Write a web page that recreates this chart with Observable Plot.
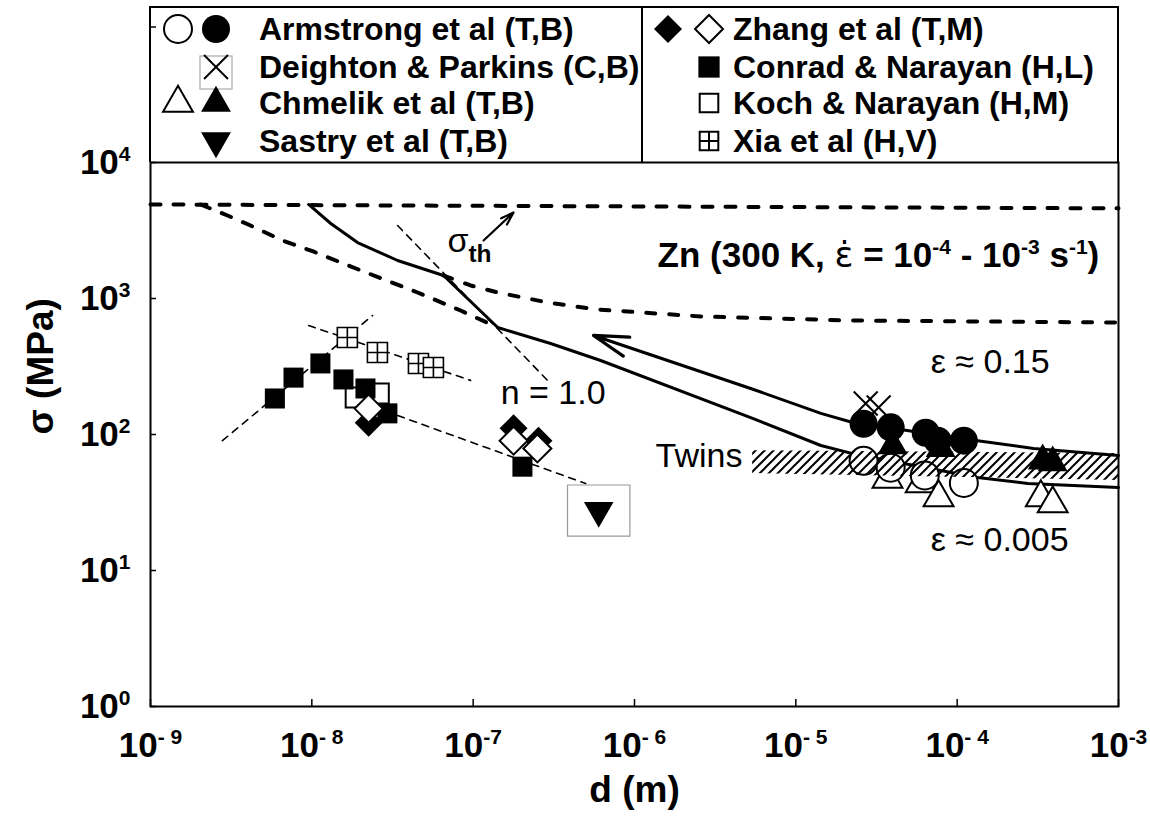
<!DOCTYPE html>
<html>
<head>
<meta charset="utf-8">
<script src="https://cdn.jsdelivr.net/npm/d3@7"></script>
<script src="https://cdn.jsdelivr.net/npm/@observablehq/plot@0.6"></script>
<style>
  body { margin: 0; background: #fff; }
  #wrap { position: relative; width: 1150px; height: 828px; font-family: "Liberation Sans", Arial, sans-serif; }
  #wrap svg { position: absolute; left: 0; top: 0; }
</style>
</head>
<body>
<div id="wrap"></div>
<script>
// ---------- axes ----------
const xTicks = [1e-9, 1e-8, 1e-7, 1e-6, 1e-5, 1e-4, 1e-3];
const xTickLabels = ["10^{- 9}", "10^{- 8}", "10^{-7}", "10^{- 6}", "10^{- 5}", "10^{- 4}", "10^{-3}"];
const yTicks = [1, 10, 100, 1000, 10000];
const yTickLabels = ["10^{0}", "10^{1}", "10^{2}", "10^{3}", "10^{4}"];

// ---------- measurements: grain size d (m), flow stress sigma (MPa) ----------
// Armstrong et al (T,B)
const armstrongHiD = [2.63e-5, 3.87e-5, 6.38e-5, 7.57e-5, 1.1e-4];
const armstrongHiS = [120, 113, 103, 90, 90];
const armstrongLoD = [2.63e-5, 3.87e-5, 6.3e-5, 1.1e-4];
const armstrongLoS = [64, 57, 50, 44];
// Deighton & Parkins (C,B)
const deightonD = [2.71e-5, 3.26e-5];
const deightonS = [169, 158];
// Chmelik et al (T,B)
const chmelikHiD = [3.98e-5, 7.9e-5, 3.39e-4, 3.91e-4];
const chmelikHiS = [83, 79, 64, 62];
const chmelikLoD = [3.7e-5, 5.94e-5, 7.67e-5, 3.3e-4, 3.91e-4];
const chmelikLoS = [47, 43.6, 34.4, 34.4, 31];
// Sastry et al (T,B)
const sastryD = [6.0e-7];
const sastryS = [27.6];
// Zhang et al (T,M)
const zhangHiD = [2.25e-8, 1.78e-7, 2.54e-7];
const zhangHiS = [122, 111, 90];
const zhangLoD = [2.25e-8, 1.78e-7, 2.5e-7];
const zhangLoS = [155, 90, 79];
// Conrad & Narayan (H,L)
const conradD = [5.9e-9, 7.7e-9, 1.13e-8, 1.57e-8, 2.15e-8, 2.94e-8, 2.02e-7];
const conradS = [184, 262, 333, 254, 218, 143, 58];
// Koch & Narayan (H,M)
const kochD = [1.87e-8, 2.6e-8];
const kochS = [187, 200];
// Xia et al (H,V)
const xiaD = [1.66e-8, 2.55e-8, 4.58e-8, 5.67e-8];
const xiaS = [517, 401, 333, 311];

// ---------- model curves ----------
const upperD = [1e-3, 2.98e-4, 1.34e-4, 2.28e-5, 1.43e-5, 5.25e-6];   // eps ~ 0.15
const upperS = [70, 79, 90, 122, 143, 218];
const upperArrowD = [5.25e-6, 5.57e-7];
const upperArrowS = [218, 535];
const lowerD = [9.55e-9, 1.31e-8, 1.92e-8, 3.4e-8, 6.55e-8, 1.42e-7, 3.02e-7, 6.17e-7, 5.25e-6, 1.43e-5, 2.28e-5, 1.34e-4, 2.74e-4, 1e-3]; // eps ~ 0.005
const lowerS = [4913, 3560, 2580, 1903, 1476, 612, 467, 350, 133, 83, 72, 48.3, 43.6, 40.7];
const sigmaThD = [1e-9, 1e-3];
const sigmaThS = [4913, 4600];
const branchD = [2.04e-9, 3.0e-9, 4.17e-9, 6.58e-9, 1.02e-8, 2.09e-8, 4.52e-8, 8.36e-8, 1.42e-7];
const branchS = [4913, 4075, 3440, 2670, 2217, 1580, 1107, 816, 612];
const plateauD = [6.55e-8, 9.64e-8, 1.42e-7, 2.89e-7, 5.9e-7, 2.57e-6, 2.19e-5, 1e-3];
const plateauS = [1476, 1247, 1107, 935, 830, 738, 689, 666];
// thin guide lines
const guideN1D = [3.4e-8, 2.89e-7];      const guideN1S = [3440, 250];
const guideConradD = [2.79e-9, 2.38e-8]; const guideConradS = [90, 750];
const guideXiaD = [9.55e-9, 9.64e-8];    const guideXiaS = [633, 250];
const guideLowD = [3.4e-8, 4.98e-7];     const guideLowS = [138, 43.6];
// twinning band
const twinsD = [5.4e-6, 1e-3];
const twinsLo = [51.6, 45.9];
const twinsHi = [76, 72.4];
// sigma_th pointer
const thArrowD = [1.16e-7, 1.78e-7];
const thArrowS = [2670, 4290];

// ---------- annotations ----------
const boldNotes = [{text: "Zn (300 K, ~{ε\u0307} = 10^{-4} - 10^{-3} s^{-1})", d: 7.6e-4, s: 1718}];
const plainNotes = [
  {text: "ε ≈ 0.15", d: 6.86e-5, s: 281},
  {text: "ε ≈ 0.005", d: 6.86e-5, s: 14.0},
  {text: "n = 1.0", d: 1.48e-7, s: 169},
  {text: "Twins", d: 1.35e-6, s: 57.2},
  {text: "σ_{th}", d: 6.93e-8, s: 2180}
];

// ---------- legend ----------
const legendLeft = [
  {label: "Armstrong et al (T,B)", marks: ["openCircle", "filledCircle"]},
  {label: "Deighton & Parkins (C,B)", marks: [null, "boxedCross"]},
  {label: "Chmelik et al (T,B)", marks: ["openTriangle", "filledTriangle"]},
  {label: "Sastry et al (T,B)", marks: [null, "filledDown"]}
];
const legendRight = [
  {label: "Zhang et al (T,M)", marks: ["filledDiamond", "openDiamond"]},
  {label: "Conrad & Narayan (H,L)", marks: [null, "filledSquare"]},
  {label: "Koch & Narayan (H,M)", marks: [null, "openSquare"]},
  {label: "Xia et al (H,V)", marks: [null, "crossedSquare"]}
];

// ---------- helpers ----------
const NS = "http://www.w3.org/2000/svg";
const zip = (d, s) => d.map((v, i) => ({d: v, s: s[i]}));
const crossedSquare = {draw(c, size) {
  const h = Math.sqrt(size) / 2;
  c.moveTo(-h, -h); c.lineTo(h, -h); c.lineTo(h, h); c.lineTo(-h, h); c.closePath();
  c.moveTo(0, -h); c.lineTo(0, h); c.moveTo(-h, 0); c.lineTo(h, 0);
}};
const cross = {draw(c, size) {
  const h = Math.sqrt(size) / 2;
  c.moveTo(-h, -h); c.lineTo(h, h); c.moveTo(-h, h); c.lineTo(h, -h);
}};
const box = {draw(c, size) {
  const s = Math.sqrt(size), w = s * 0.55, h = s * 0.45;
  c.moveTo(-w, -h); c.lineTo(w, -h); c.lineTo(w, h); c.lineTo(-w, h); c.closePath();
}};

const FONT = "'Liberation Sans', Arial, sans-serif";
const HATCH = "#010203";
const dashThick = "10,13";
const dashThin = "7,6";

const W = 1150, H = 828, mL = 150, mR = 32, mT = 162, mB = 122;
const plotW = W - mL - mR, plotH = H - mT - mB;

const line = (d, s, o) => Plot.line(zip(d, s), {x: "d", y: "s", ...o});

const chart = Plot.plot({
  width: W, height: H,
  marginLeft: mL, marginRight: mR, marginTop: mT, marginBottom: mB,
  x: {type: "log", domain: [1e-9, 1e-3], axis: null},
  y: {type: "log", domain: [1, 1e4], axis: null},
  style: {fontFamily: FONT, background: "transparent", overflow: "visible", color: "#000"},
  marks: [
    // thin guide lines
    line(guideN1D, guideN1S, {stroke: "#000", strokeWidth: 1.6, strokeDasharray: dashThin}),
    line(guideConradD, guideConradS, {stroke: "#000", strokeWidth: 1.6, strokeDasharray: dashThin}),
    line(guideXiaD, guideXiaS, {stroke: "#000", strokeWidth: 1.6, strokeDasharray: dashThin}),
    line(guideLowD, guideLowS, {stroke: "#000", strokeWidth: 1.6, strokeDasharray: dashThin}),
    // dashed model curves
    line(sigmaThD, sigmaThS, {stroke: "#000", strokeWidth: 4, strokeDasharray: dashThick}),
    line(branchD, branchS, {stroke: "#000", strokeWidth: 4, strokeDasharray: dashThick}),
    line(plateauD, plateauS, {stroke: "#000", strokeWidth: 4, strokeDasharray: "9,14"}),
    // solid model curves
    line(lowerD, lowerS, {stroke: "#000", strokeWidth: 3}),
    line(upperD, upperS, {stroke: "#000", strokeWidth: 3}),
    Plot.arrow([0], {x1: () => upperArrowD[0], y1: () => upperArrowS[0], x2: () => upperArrowD[1], y2: () => upperArrowS[1],
      stroke: "#000", strokeWidth: 3.2, headLength: 17, headAngle: 32}),
    Plot.arrow([0], {x1: () => thArrowD[0], y1: () => thArrowS[0], x2: () => thArrowD[1], y2: () => thArrowS[1],
      stroke: "#000", strokeWidth: 2.2, headLength: 12, headAngle: 36}),
    // Sastry point in its box
    Plot.dot(zip(sastryD, sastryS), {x: "d", y: "s", symbol: box, r: 32, fill: "#fff", stroke: "#999", strokeWidth: 1.2}),
    Plot.dot(zip(sastryD, sastryS), {x: "d", y: "s", symbol: "triangle", rotate: 180, r: 11, fill: "#000"}),
    // bulk data, open symbols
    Plot.dot(zip(chmelikLoD, chmelikLoS), {x: "d", y: "s", symbol: "triangle", r: 11.1, fill: "#fff", stroke: "#000", strokeWidth: 2}),
    Plot.dot(zip(armstrongLoD, armstrongLoS), {x: "d", y: "s", symbol: "circle", r: 14, fill: "#fff", stroke: "#000", strokeWidth: 2}),
    // twinning band
    Plot.areaY(twinsD.map((d, i) => ({d, lo: twinsLo[i], hi: twinsHi[i]})), {x: "d", y1: "lo", y2: "hi", fill: HATCH}),
    // bulk data, filled symbols
    Plot.dot(zip(chmelikHiD, chmelikHiS), {x: "d", y: "s", symbol: "triangle", r: 11.1, fill: "#000"}),
    Plot.dot(zip(armstrongHiD, armstrongHiS), {x: "d", y: "s", symbol: "circle", r: 14, fill: "#000"}),
    Plot.dot(zip(deightonD, deightonS), {x: "d", y: "s", symbol: cross, r: 13.5, stroke: "#000", strokeWidth: 2}),
    // nanocrystalline data
    Plot.dot(zip(xiaD, xiaS), {x: "d", y: "s", symbol: crossedSquare, r: 11.3, fill: "#fff", stroke: "#000", strokeWidth: 1.6}),
    Plot.dot(zip(kochD, kochS), {x: "d", y: "s", symbol: "square", r: 11.3, fill: "#fff", stroke: "#000", strokeWidth: 2}),
    Plot.dot(zip(conradD, conradS), {x: "d", y: "s", symbol: "square", r: 11.3, fill: "#000"}),
    Plot.dot(zip(zhangHiD, zhangHiS), {x: "d", y: "s", symbol: "diamond2", r: 12.6, fill: "#000"}),
    Plot.dot(zip(zhangLoD, zhangLoS), {x: "d", y: "s", symbol: "diamond2", r: 12.6, fill: "#fff", stroke: "#000", strokeWidth: 2}),
    // annotations
    Plot.text(boldNotes, {x: "d", y: "s", text: "text", textAnchor: "end", lineAnchor: "bottom", fontSize: 35, fontWeight: "bold"}),
    Plot.text(plainNotes, {x: "d", y: "s", text: "text", textAnchor: "start", lineAnchor: "bottom", fontSize: 34}),
    // frame and ticks
    Plot.frame({stroke: "#000", strokeWidth: 2}),
    Plot.ruleX(xTicks, {x: d => d, insetTop: plotH - 7, stroke: "#000", strokeWidth: 1.5}),
    Plot.ruleY(yTicks, {y: d => d, insetRight: plotW - 6, stroke: "#000", strokeWidth: 1.5}),
    Plot.text(xTicks, {x: d => d, frameAnchor: "bottom", dy: 50, text: (d, i) => xTickLabels[i], fontSize: 35, fontWeight: "bold"}),
    Plot.text(yTicks, {y: d => d, frameAnchor: "left", dx: -20, textAnchor: "end", text: (d, i) => yTickLabels[i], fontSize: 35, fontWeight: "bold"}),
    Plot.text(["d (m)"], {frameAnchor: "bottom", dy: 95, text: d => d, fontSize: 37, fontWeight: "bold"}),
    Plot.text(["σ (MPa)"], {frameAnchor: "left", dx: -109, rotate: -90, text: d => d, fontSize: 37, fontWeight: "bold"})
  ]
});

const wrap = document.getElementById("wrap");
wrap.appendChild(chart);

// hatch pattern for the twinning band
const defs = document.createElementNS(NS, "defs");
defs.innerHTML = `<pattern id="hatch" patternUnits="userSpaceOnUse" width="9" height="9">
  <path d="M-2,2 L2,-2 M0,9 L9,0 M7,11 L11,7" stroke="#000" stroke-width="2"/></pattern>`;
chart.insertBefore(defs, chart.firstChild);
chart.querySelectorAll(`[fill="${HATCH}"]`).forEach(el => el.setAttribute("fill", "url(#hatch)"));

// markup in labels: ^{..} superscript, _{..} bold subscript, ~{..} run set in DejaVu Sans (combining accents)
function richify(svg) {
  svg.querySelectorAll("text").forEach(t => {
    const s = t.textContent;
    if (!/[\^_~]\{/.test(s)) return;
    const fs = parseFloat(getComputedStyle(t).fontSize);
    while (t.firstChild) t.removeChild(t.firstChild);
    let shift = 0;
    const re = /([\^_~])\{([^}]*)\}|([^\^_~]+)/g;
    let m;
    while ((m = re.exec(s))) {
      const sp = document.createElementNS(NS, "tspan");
      let target = 0;
      if (m[3] !== undefined) { sp.textContent = m[3]; }
      else if (m[1] === "^") { sp.textContent = m[2]; sp.setAttribute("font-size", fs * 0.6); target = -0.36 * fs; }
      else if (m[1] === "_") { sp.textContent = m[2]; sp.setAttribute("font-size", fs * 0.72); sp.setAttribute("font-weight", "bold"); target = 0.28 * fs; }
      else { sp.textContent = m[2]; sp.setAttribute("font-family", "DejaVu Sans"); sp.setAttribute("font-weight", "normal"); }
      if (target !== shift) { sp.setAttribute("dy", target - shift); shift = target; }
      t.appendChild(sp);
    }
  });
}
richify(chart);

// ---------- legend box above the plot frame ----------
const lg = d3.select(wrap).append("svg").attr("width", W).attr("height", 170)
  .style("font-family", FONT);
const bx0 = mL, bx1 = W - mR, by0 = 7, by1 = mT;
lg.append("path").attr("d", `M${bx0},${by1}V${by0}H${bx1}V${by1}`).attr("fill", "none").attr("stroke", "#000").attr("stroke-width", 2);
lg.append("line").attr("x1", 642).attr("x2", 642).attr("y1", by0).attr("y2", by1).attr("stroke", "#000").attr("stroke-width", 2);
lg.append("line").attr("x1", bx0).attr("x2", bx0 + 6).attr("y1", 27).attr("y2", 27).attr("stroke", "#000").attr("stroke-width", 1.5);

const symbolSpec = {
  openCircle: {type: d3.symbolCircle, r: 14, fill: "#fff", stroke: "#000"},
  filledCircle: {type: d3.symbolCircle, r: 14, fill: "#000"},
  boxedCross: {type: cross, r: 13.5, fill: "none", stroke: "#000", box: true},
  openTriangle: {type: d3.symbolTriangle, r: 11.1, fill: "#fff", stroke: "#000"},
  filledTriangle: {type: d3.symbolTriangle, r: 11.1, fill: "#000"},
  filledDown: {type: d3.symbolTriangle, r: 11.1, fill: "#000", rotate: 180},
  filledDiamond: {type: d3.symbolDiamond2, r: 12.6, fill: "#000"},
  openDiamond: {type: d3.symbolDiamond2, r: 12.6, fill: "#fff", stroke: "#000"},
  filledSquare: {type: d3.symbolSquare, r: 12, fill: "#000"},
  openSquare: {type: d3.symbolSquare, r: 10.5, fill: "#fff", stroke: "#000"},
  crossedSquare: {type: crossedSquare, r: 10.5, fill: "#fff", stroke: "#000"}
};
const rowY = [29, 67, 103, 141];
function drawLegendColumn(items, symX, textX) {
  items.forEach((it, i) => {
    const cy = rowY[i];
    it.marks.forEach((k, j) => {
      if (!k) return;
      const sp = symbolSpec[k];
      const g = lg.append("g").attr("transform", `translate(${symX[j]},${cy}) rotate(${sp.rotate || 0})`);
      if (sp.box) g.append("rect").attr("x", -16).attr("y", -11).attr("width", 32).attr("height", 33).attr("fill", "#fff").attr("stroke", "#aaa").attr("stroke-width", 1.2);
      g.append("path").attr("d", d3.symbol(sp.type, Math.PI * sp.r * sp.r)())
        .attr("fill", sp.fill).attr("stroke", sp.stroke || "none").attr("stroke-width", 2);
    });
    lg.append("text").attr("x", textX).attr("y", cy + 11).attr("font-size", 32).attr("font-weight", "bold").text(it.label);
  });
}
drawLegendColumn(legendLeft, [178, 216], 259);
drawLegendColumn(legendRight, [668, 709], 733);
</script>
</body>
</html>
